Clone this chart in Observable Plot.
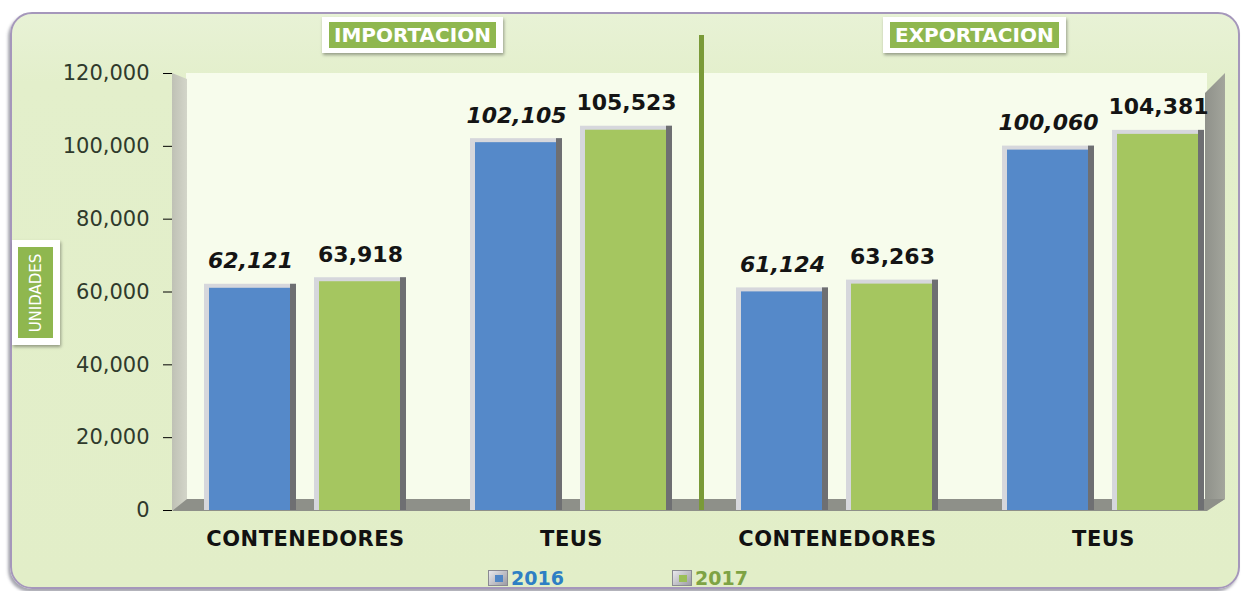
<!DOCTYPE html>
<html><head><meta charset="utf-8">
<script src="https://cdn.jsdelivr.net/npm/d3@7"></script>
<script src="https://cdn.jsdelivr.net/npm/@observablehq/plot@0.6"></script>
<style>
body{margin:0;background:#fff;}
#wrap{position:relative;width:1245px;height:591px;overflow:hidden;font-family:"DejaVu Sans",sans-serif;}
.abs{position:absolute;}
#panel{left:10px;top:12px;width:1226px;height:573px;border:2px solid #a597bb;border-radius:22px;background:linear-gradient(#e8f2d6 0%,#e3efcb 12%,#e2eec8 100%);box-shadow:-2px 3px 3px rgba(60,60,80,0.45);}
#plotbg{left:186px;top:73px;width:1021px;height:427px;background:#f7fcec;}
#lwall{left:172px;top:73px;width:15px;height:437px;background:linear-gradient(90deg,#bfc1b5,#d3d5c9);clip-path:polygon(0 0,100% 6px,100% 100%,0 100%);}
#floor{left:172px;top:499px;width:1053px;height:12px;background:#8e9089;clip-path:polygon(15px 0,100% 0,calc(100% - 18px) 100%,0 100%);}
#rwall{left:1205px;top:73px;width:20px;height:438px;background:linear-gradient(90deg,#8f918a,#a3a59c);clip-path:polygon(0 20px,100% 0,100% 426px,0 100%);}
#divider{left:699px;top:35px;width:5px;height:475px;background:#7a9a38;}
.tbox{background:#fff;box-shadow:1px 2px 3px rgba(0,0,0,0.35);padding:5px 7px;}
.tbox span{display:block;background:#8fb74f;color:#fff;font-weight:bold;font-size:20px;line-height:26px;padding:0 5px;}
#unid{left:12px;top:240px;width:48px;height:105px;background:#fff;box-shadow:1px 2px 3px rgba(0,0,0,0.35);}
#unid div{position:absolute;left:6px;top:7px;width:35px;height:91px;background:#8fb74f;}
#unid span{position:absolute;left:50%;top:50%;transform:translate(-50%,-50%) rotate(-90deg);color:#fff;font-size:15px;white-space:nowrap;}
.leg{top:567px;font-weight:bold;font-size:19px;display:flex;align-items:center;}
.ico{display:inline-block;width:18px;height:14px;margin-right:3px;background:linear-gradient(135deg,#e8e8ec,#9c9ca4);border:1px solid #8a8a92;position:relative;}
.ico i{position:absolute;left:6px;top:4px;width:8px;height:7px;}
#chart{left:0;top:0;}
#chart svg{overflow:visible;}
[aria-label="y-axis tick"]{stroke:#8c8c8c;}
[aria-label="y-axis tick label"]{fill:#2f3a2c;}
[aria-label="fx-axis tick label"]{fill:#111;letter-spacing:0.5px;}
</style>
</head><body>
<div id="wrap">
  <div id="panel" class="abs"></div>
  <div id="plotbg" class="abs"></div>
  <div id="lwall" class="abs"></div>
  <div id="rwall" class="abs"></div>
  <div id="floor" class="abs"></div>
  <div id="chart" class="abs"></div>
  <div id="divider" class="abs"></div>
  <div class="abs tbox" style="left:322px;top:17px;"><span>IMPORTACION</span></div>
  <div class="abs tbox" style="left:883px;top:17px;"><span>EXPORTACION</span></div>
  <div id="unid" class="abs"><div></div><span>UNIDADES</span></div>
  <div class="abs leg" style="left:488px;color:#2e7fc4;"><span class="ico"><i style="background:#4f86c6"></i></span>2016</div>
  <div class="abs leg" style="left:672px;color:#7ea344;"><span class="ico"><i style="background:#9bbf57"></i></span>2017</div>
</div>
<script>
// ---- data ----
const groups = ["IMPORTACION", "IMPORTACION", "EXPORTACION", "EXPORTACION"];
const categories = ["CONTENEDORES", "TEUS", "CONTENEDORES", "TEUS"];
const years = [2016, 2017];
const values2016 = [62121, 102105, 61124, 100060];
const values2017 = [63918, 105523, 63263, 104381];
const yTicks = [0, 20000, 40000, 60000, 80000, 100000, 120000];
const yearColors = ["#5589c9", "#a5c660"];

const keys = categories.map((c, i) => groups[i] + "|" + c);
const rows = [];
keys.forEach((k, i) => {
  rows.push({key: k, year: 2016, value: values2016[i]});
  rows.push({key: k, year: 2017, value: values2017[i]});
});
const fmt = d3.format(",");

const chart = Plot.plot({
  width: 1245, height: 591,
  marginLeft: 172, marginRight: 9, marginTop: 73, marginBottom: 81,
  style: {background: "transparent", fontFamily: "DejaVu Sans, sans-serif"},
  fx: {domain: keys, padding: 0, label: null, axis: null},
  x: {domain: years, paddingInner: 0.164, paddingOuter: 0.291, axis: null},
  y: {domain: [0, 120000], axis: null},
  color: {type: "ordinal", domain: years, range: yearColors},
  marks: [
    Plot.axisY({ticks: yTicks, tickFormat: fmt, tickSize: 9, tickPadding: 14, fontSize: 21, label: null}),
    Plot.axisFx({tickFormat: k => k.split("|")[1], tickSize: 0, tickPadding: 21, fontSize: 21, fontWeight: "bold", label: null, anchor: "bottom"}),
    Plot.barY(rows, {fx: "key", x: "year", y: "value", fill: "#d6d7dc"}),
    Plot.barY(rows, {fx: "key", x: "year", y: "value", fill: "#6e6f72", insetLeft: 86}),
    Plot.barY(rows, {fx: "key", x: "year", y: "value", fill: "year", insetLeft: 5, insetRight: 6, insetTop: 4}),
    Plot.text(rows.filter(d => d.year === 2016), {fx: "key", x: "year", y: "value", text: d => fmt(d.value), dy: -23, fontSize: 22, fontWeight: "bold", fontStyle: "italic", fill: "#141414"}),
    Plot.text(rows.filter(d => d.year === 2017), {fx: "key", x: "year", y: "value", text: d => fmt(d.value), dy: -23, fontSize: 22, fontWeight: "bold", fill: "#141414"})
  ]
});
document.getElementById("chart").appendChild(chart);
</script>
</body></html>
